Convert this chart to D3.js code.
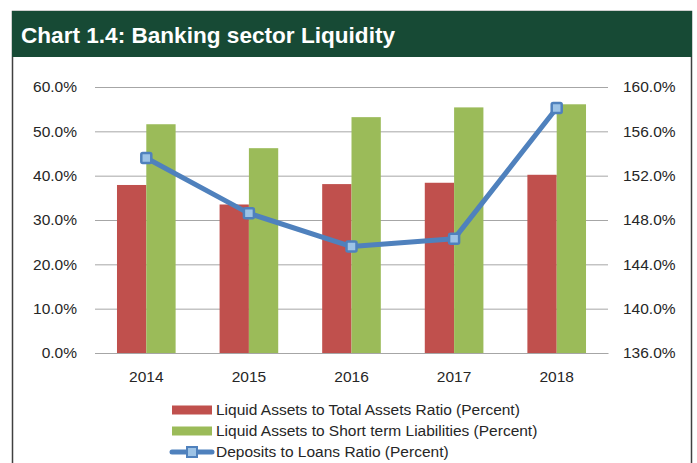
<!DOCTYPE html>
<html>
<head>
<meta charset="utf-8">
<script src="https://cdn.jsdelivr.net/npm/d3@7"></script>
<style>
  body { margin: 0; background: #fff; }
  text { font-family: "Liberation Sans", Arial, sans-serif; fill: #262626; }
</style>
</head>
<body>
<svg width="697" height="463"></svg>
<script>
var years = ['2014', '2015', '2016', '2017', '2018'];
var liquidToTotal = [37.9, 33.5, 38.1, 38.4, 40.2];
var liquidToShortTerm = [51.6, 46.2, 53.2, 55.4, 56.1];
var depositsToLoans = [153.6, 148.6, 145.6, 146.3, 158.1];
var leftTicks = [0, 10, 20, 30, 40, 50, 60];
var rightTicks = [136, 140, 144, 148, 152, 156, 160];
var seriesNames = [
  'Liquid Assets to Total Assets Ratio (Percent)',
  'Liquid Assets to Short term Liabilities (Percent)',
  'Deposits to Loans Ratio (Percent)'
];

var red = '#c0504d', green = '#9bbb59', blue = '#4f81bd', lightBlue = '#9dc3e6';
var plot = {left: 95, right: 608, top: 87, bottom: 353};
var fs = 15.5;

var svg = d3.select('svg');

// frame + header
svg.append('rect').attr('x', 12.5).attr('y', 11.5).attr('width', 679).attr('height', 470)
  .attr('fill', '#fff').attr('stroke', '#404040').attr('stroke-width', 1.5);
svg.append('rect').attr('x', 12).attr('y', 11).attr('width', 680).attr('height', 46)
  .attr('fill', '#174a35');
svg.append('text').attr('x', 21).attr('y', 43)
  .attr('font-size', 22).attr('font-weight', 'bold')
  .attr('textLength', 374).attr('lengthAdjust', 'spacingAndGlyphs')
  .style('fill', '#fff')
  .text('Chart 1.4: Banking sector Liquidity');

var x = d3.scaleBand().domain(years).range([plot.left, plot.right]).padding(0);
var xs = d3.scaleBand().domain([0, 1]).range([0, x.bandwidth()])
  .paddingInner(0).paddingOuter(0.75);
var yL = d3.scaleLinear().domain([0, 60]).range([plot.bottom, plot.top]);
var yR = d3.scaleLinear().domain([136, 160]).range([plot.bottom, plot.top]);

// left axis with gridlines
var gl = svg.append('g').attr('transform', 'translate(' + plot.left + ',0)')
  .call(d3.axisLeft(yL).tickValues(leftTicks).tickSize(-(plot.right - plot.left))
    .tickPadding(18).tickFormat(function (d) { return d.toFixed(1) + '%'; }));
gl.select('.domain').remove();
gl.selectAll('line').attr('stroke', '#a6a6a6');
gl.selectAll('text').attr('font-size', fs).style('font-family', '"Liberation Sans", Arial, sans-serif');

var gr = svg.append('g').attr('transform', 'translate(' + plot.right + ',0)')
  .call(d3.axisRight(yR).tickValues(rightTicks).tickSize(0)
    .tickPadding(15).tickFormat(function (d) { return d.toFixed(1) + '%'; }));
gr.select('.domain').remove();
gr.selectAll('text').attr('font-size', fs).style('font-family', '"Liberation Sans", Arial, sans-serif');

// bars
var bars = [liquidToTotal, liquidToShortTerm];
var barColors = [red, green];
bars.forEach(function (vals, si) {
  svg.append('g').selectAll('rect').data(vals).enter().append('rect')
    .attr('x', function (d, i) { return x(years[i]) + xs(si); })
    .attr('width', xs.bandwidth())
    .attr('y', function (d) { return yL(d); })
    .attr('height', function (d) { return plot.bottom - yL(d); })
    .attr('fill', barColors[si]);
});

// x axis
var gx = svg.append('g').attr('transform', 'translate(0,' + plot.bottom + ')')
  .call(d3.axisBottom(x).tickSize(0).tickPadding(18));
gx.select('.domain').attr('stroke', '#a6a6a6').attr('stroke-width', 1.2);
gx.selectAll('text').attr('font-size', fs).style('font-family', '"Liberation Sans", Arial, sans-serif');

// line
var line = d3.line()
  .x(function (d, i) { return x(years[i]) + x.bandwidth() / 2; })
  .y(function (d) { return yR(d); });
svg.append('path').datum(depositsToLoans).attr('d', line)
  .attr('fill', 'none').attr('stroke', blue).attr('stroke-width', 5)
  .attr('stroke-linejoin', 'round');
svg.append('g').selectAll('rect').data(depositsToLoans).enter().append('rect')
  .attr('x', function (d, i) { return x(years[i]) + x.bandwidth() / 2 - 5; })
  .attr('y', function (d) { return yR(d) - 5; })
  .attr('width', 10).attr('height', 10).attr('rx', 1.5)
  .attr('fill', lightBlue).attr('stroke', blue).attr('stroke-width', 2.5);

// legend
var lg = svg.append('g').attr('transform', 'translate(172,0)');
var rows = [410, 431, 452];
[red, green].forEach(function (c, i) {
  lg.append('rect').attr('x', 0).attr('y', rows[i] - 4.5).attr('width', 40).attr('height', 9).attr('fill', c);
});
lg.append('line').attr('x1', 0).attr('x2', 40).attr('y1', rows[2]).attr('y2', rows[2])
  .attr('stroke', blue).attr('stroke-width', 5).attr('stroke-linecap', 'round');
lg.append('rect').attr('x', 15).attr('y', rows[2] - 5).attr('width', 10).attr('height', 10)
  .attr('fill', lightBlue).attr('stroke', blue).attr('stroke-width', 2);
seriesNames.forEach(function (name, i) {
  lg.append('text').attr('x', 44).attr('y', rows[i]).attr('dy', '0.35em')
    .attr('font-size', fs).text(name);
});
</script>
</body>
</html>
